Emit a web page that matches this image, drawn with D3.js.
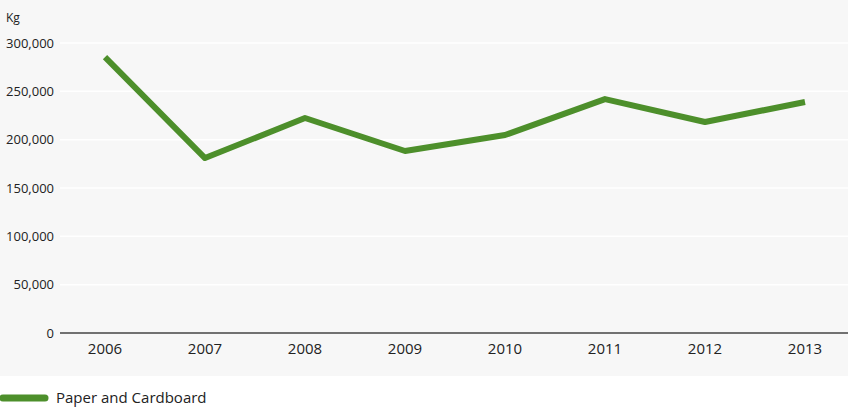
<!DOCTYPE html><html><head><meta charset="utf-8"><script src="https://cdn.jsdelivr.net/npm/d3@7"></script>
<style>body{margin:0;background:#fff}text{font-family:"Open Sans",sans-serif}</style></head><body><svg id="c" width="848" height="408"></svg><script>
const years=["2006","2007","2008","2009","2010","2011","2012","2013"];
const values=[285500,181000,222400,188300,204800,242000,218300,239000];
const yTicks=[0,50000,100000,150000,200000,250000,300000];
const svg=d3.select("#c");
svg.append("rect").attr("width",848).attr("height",376).attr("fill","#f7f7f7");
const x=d3.scalePoint().domain(years).range([105,805]);
const y=d3.scaleLinear().domain([0,300000]).range([333,43]);
const g=svg.append("g");
yTicks.forEach(t=>{
 if(t>0)g.append("line").attr("x1",60).attr("x2",848).attr("y1",y(t)).attr("y2",y(t)).attr("stroke","#fff").attr("stroke-width",1.5);
 g.append("text").attr("x",54).attr("y",y(t)).attr("dy","0.35em").attr("text-anchor","end").attr("font-size",13).attr("fill","#222").text(d3.format(",")(t));
});
g.append("line").attr("x1",60).attr("x2",848).attr("y1",333).attr("y2",333).attr("stroke","#444").attr("stroke-width",1.5);
years.forEach(yr=>g.append("text").attr("x",x(yr)).attr("y",354).attr("text-anchor","middle").attr("font-size",15).attr("fill","#222").text(yr));
svg.append("text").attr("x",6).attr("y",22).attr("font-size",12).attr("fill","#222").text("Kg");
svg.append("path").datum(values).attr("fill","none").attr("stroke","#4d8f2b").attr("stroke-width",6).attr("stroke-linejoin","round")
 .attr("d",d3.line().x((d,i)=>x(years[i])).y(d=>y(d)));
svg.append("line").attr("x1",3).attr("x2",45).attr("y1",398).attr("y2",398).attr("stroke","#4d8f2b").attr("stroke-width",7).attr("stroke-linecap","round");
svg.append("text").attr("x",56).attr("y",398).attr("dy","0.35em").attr("font-size",15).attr("fill","#222").text("Paper and Cardboard");
</script></body></html>
